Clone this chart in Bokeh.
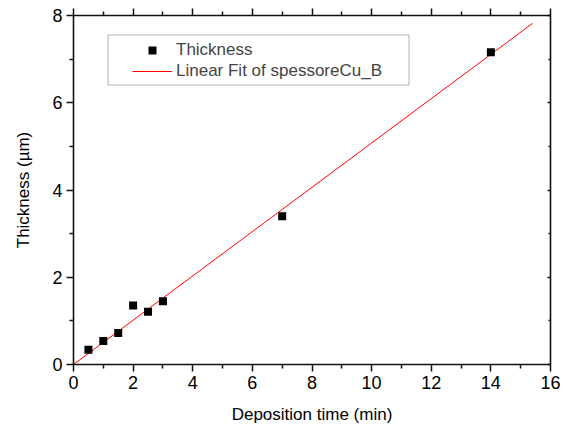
from bokeh.plotting import figure
from bokeh.models import (LinearAxis, Legend, LegendItem, BoxAnnotation, Range1d,
                          FixedTicker, CustomJSTickFormatter)
from bokeh.embed import file_html
from bokeh.resources import INLINE

# data
deposition_time = [0.5, 1.0, 1.5, 2.0, 2.5, 3.0, 7.0, 14.0]
thickness = [0.34, 0.54, 0.72, 1.35, 1.21, 1.45, 3.40, 7.16]
fit_x = [0.0, 15.4]
fit_y = [0.0, 7.82]
x_ticks = [0, 2, 4, 6, 8, 10, 12, 14, 16]
x_minor = [1, 3, 5, 7, 9, 11, 13, 15]
y_ticks = [0, 2, 4, 6, 8]
y_minor = [1, 3, 5, 7]

FONT = "Liberation Sans"

p = figure(width=563, height=429, output_backend="svg", toolbar_location=None,
           x_range=Range1d(0, 16), y_range=Range1d(0, 8),
           min_border_left=73, min_border_right=13, min_border_top=15, min_border_bottom=65,
           x_axis_label="Deposition time (min)", y_axis_label="Thickness (\u00b5m)")
p.outline_line_color = None
p.grid.visible = False
p.background_fill_color = "white"
p.border_fill_color = "white"

fit = p.line(fit_x, fit_y, line_color="#ff0000", line_width=1)
pts = p.scatter(deposition_time, thickness, marker="square", size=8,
                fill_color="black", line_color=None)

def style(ax, labels=True):
    ax.axis_line_color = "#111111"
    ax.axis_line_width = 1.6
    ax.major_tick_line_color = "#111111"
    ax.minor_tick_line_color = "#111111"
    ax.major_tick_line_width = 1.5
    ax.minor_tick_line_width = 1.5
    ax.major_tick_out = 7
    ax.major_tick_in = 0
    ax.minor_tick_out = 4
    ax.minor_tick_in = 0
    ax.major_label_text_font = FONT
    ax.major_label_text_font_size = "18px" if labels else "1px"
    ax.major_label_text_color = "black"
    ax.axis_label_text_font = FONT
    ax.axis_label_text_font_size = "17px"
    ax.axis_label_text_font_style = "normal"
    ax.axis_label_text_color = "black"

xa = p.xaxis[0]
ya = p.yaxis[0]
xa.ticker = FixedTicker(ticks=x_ticks, minor_ticks=x_minor)
ya.ticker = FixedTicker(ticks=y_ticks, minor_ticks=y_minor)
style(xa)
style(ya)
xa.major_label_standoff = 4
ya.major_label_standoff = 4
xa.axis_label_standoff = 13
ya.axis_label_standoff = 16

blank = CustomJSTickFormatter(code="return ''")
top = LinearAxis(ticker=FixedTicker(ticks=x_ticks, minor_ticks=x_minor), formatter=blank)
style(top, labels=False)
top.major_label_standoff = 0
right = LinearAxis(ticker=FixedTicker(ticks=y_ticks, minor_ticks=y_minor), formatter=blank)
style(right, labels=False)
right.major_tick_out = 0
right.major_tick_in = 3
right.minor_tick_out = 0
right.minor_tick_in = 2
right.major_label_standoff = 0
p.add_layout(top, "above")
p.add_layout(right, "right")

frame_box = BoxAnnotation(left=107.5, right=408.5, top=34.5, bottom=84.5,
                          left_units="canvas", right_units="canvas",
                          top_units="canvas", bottom_units="canvas",
                          fill_color="white", fill_alpha=1.0,
                          line_color="black", line_width=1)
p.add_layout(frame_box)

legend = Legend(items=[LegendItem(label="Thickness", renderers=[pts]),
                       LegendItem(label="Linear Fit of spessoreCu_B", renderers=[fit])],
                location=(59, 283), padding=0, margin=0, spacing=1,
                glyph_width=40, glyph_height=20, label_height=20, label_standoff=4,
                label_text_font=FONT, label_text_font_size="17px",
                border_line_alpha=0, background_fill_alpha=0)
p.add_layout(legend, "center")

open("out.html", "w").write(file_html(p, INLINE))
